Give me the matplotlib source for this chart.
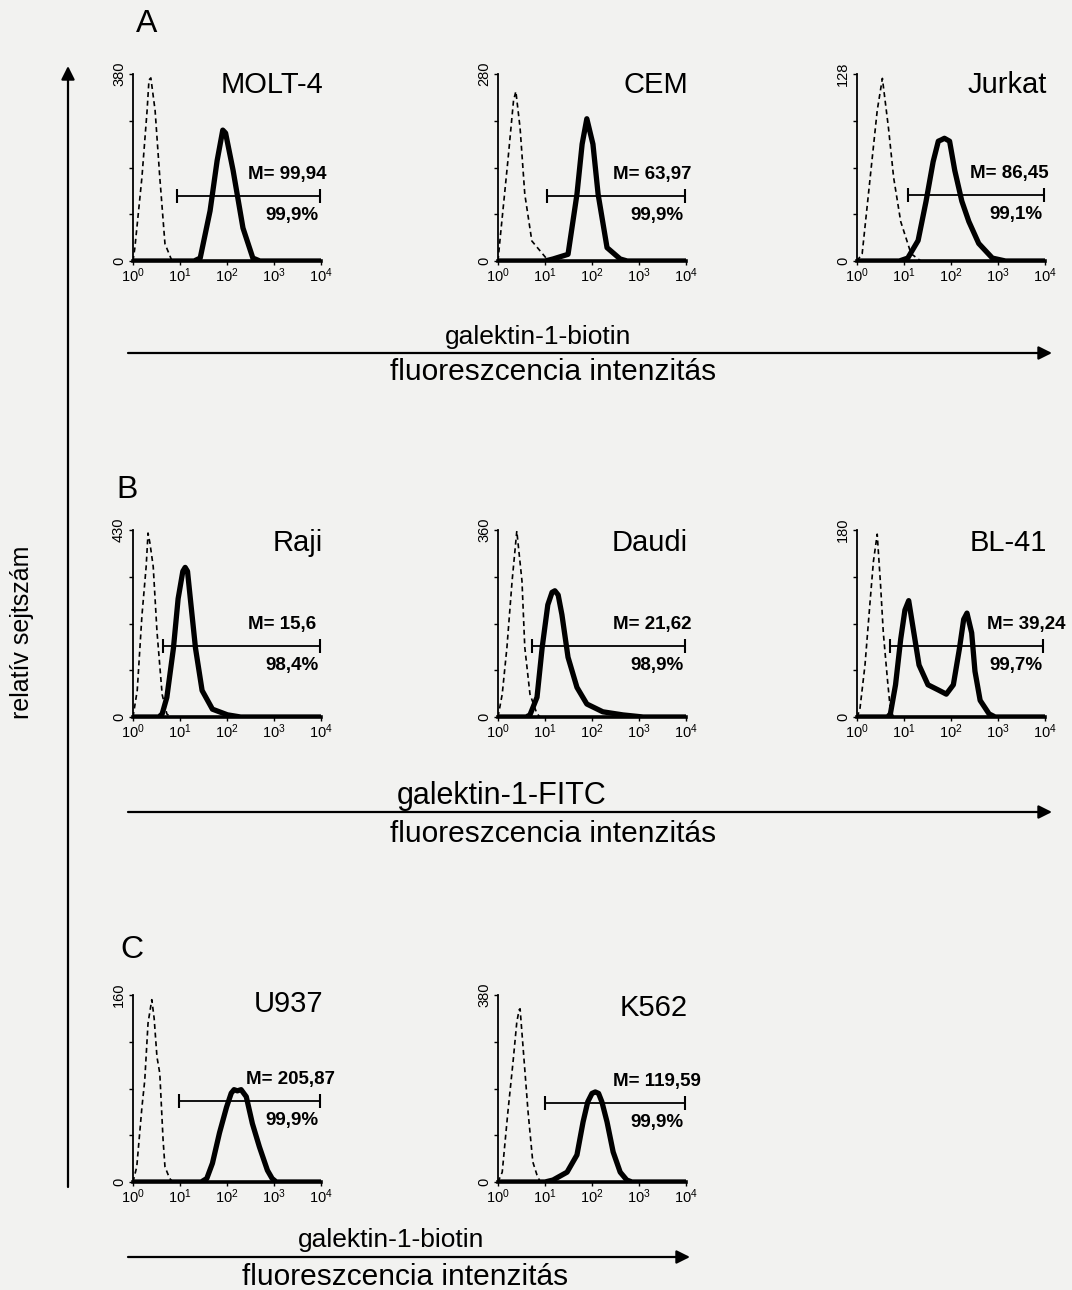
import numpy as np
import matplotlib
matplotlib.use("Agg")
import matplotlib.pyplot as plt
from matplotlib.patches import FancyArrowPatch

plt.rcParams['font.family'] = ['Liberation Sans', 'DejaVu Sans']
plt.rcParams['mathtext.fontset'] = 'custom'
plt.rcParams['mathtext.rm'] = 'Liberation Sans'
plt.rcParams['mathtext.it'] = 'Liberation Sans'
plt.rcParams['mathtext.bf'] = 'Liberation Sans:bold'

# ---------------- data (log10 fluorescence, cell count) ----------------
names = ["MOLT-4", "CEM", "Jurkat", "Raji", "Daudi", "BL-41", "U937", "K562"]
ymax = [380, 280, 128, 430, 360, 180, 160, 380]
mean_labels = ["M= 99,94", "M= 63,97", "M= 86,45", "M= 15,6", "M= 21,62",
               "M= 39,24", "M= 205,87", "M= 119,59"]
pct_labels = ["99,9%", "99,9%", "99,1%", "98,4%", "98,9%", "99,7%", "99,9%", "99,9%"]
gate_lo = [0.94, 1.04, 1.08, 0.64, 0.72, 0.71, 0.98, 1.00]
gate_hi = [3.98, 3.97, 3.97, 3.97, 3.97, 3.96, 3.97, 3.97]
gate_cnt = [133, 98, 45, 163, 137, 68, 69, 160]

molt4_ctrl_x = [0.0, 0.04, 0.19, 0.30, 0.34, 0.38, 0.47, 0.57, 0.68, 0.83]
molt4_ctrl_y = [0, 27, 170, 306, 368, 372, 306, 170, 35, 0]
molt4_x = [0, 1.30, 1.43, 1.64, 1.79, 1.91, 1.97, 2.13, 2.34, 2.55, 2.70, 4.0]
molt4_y = [0, 0, 6, 102, 204, 266, 260, 184, 67, 6, 0, 0]

cem_ctrl_x = [0.0, 0.04, 0.21, 0.33, 0.38, 0.47, 0.57, 0.72, 1.04, 1.2]
cem_ctrl_y = [0, 30, 150, 240, 254, 199, 100, 30, 3, 0]
cem_x = [0, 1.0, 1.17, 1.49, 1.68, 1.79, 1.89, 2.02, 2.13, 2.32, 2.6, 2.75, 4]
cem_y = [0, 0, 3, 10, 100, 175, 213, 175, 100, 20, 3, 0, 0]

jurkat_ctrl_x = [0.0, 0.11, 0.28, 0.43, 0.54, 0.67, 0.78, 0.93, 1.15, 1.36]
jurkat_ctrl_y = [0, 5, 57, 103, 125, 91, 57, 27, 5, 0]
jurkat_x = [0, 0.9, 1.08, 1.30, 1.47, 1.62, 1.73, 1.80, 1.86, 1.97, 2.08, 2.23,
            2.38, 2.59, 2.88, 3.16, 4]
jurkat_y = [0, 0, 2, 14, 41, 68, 82, 83, 84, 82, 62, 41, 27, 12, 2, 0, 0]

raji_ctrl_x = [0.0, 0.09, 0.19, 0.28, 0.32, 0.36, 0.43, 0.51, 0.62, 0.72, 0.8]
raji_ctrl_y = [0, 61, 233, 346, 423, 400, 346, 197, 52, 7, 0]
raji_x = [0, 0.55, 0.62, 0.72, 0.86, 0.96, 1.06, 1.11, 1.16, 1.22, 1.33, 1.47,
          1.69, 2.01, 2.29, 4]
raji_y = [0, 0, 7, 45, 158, 272, 335, 344, 335, 272, 158, 61, 18, 5, 0, 0]

daudi_ctrl_x = [0.0, 0.09, 0.19, 0.30, 0.40, 0.51, 0.57, 0.68, 0.83, 0.9]
daudi_ctrl_y = [0, 44, 134, 262, 358, 262, 134, 44, 6, 0]
daudi_x = [0, 0.6, 0.68, 0.83, 0.94, 1.06, 1.15, 1.21, 1.28, 1.36, 1.49, 1.68,
           1.89, 2.23, 2.66, 3.09, 4]
daudi_y = [0, 0, 4, 38, 134, 216, 240, 243, 235, 197, 115, 57, 25, 10, 4, 0, 0]

bl41_ctrl_x = [0.0, 0.06, 0.17, 0.28, 0.35, 0.43, 0.50, 0.56, 0.65, 0.71, 0.78]
bl41_ctrl_y = [0, 7, 50, 112, 150, 176, 128, 81, 35, 7, 0]
bl41_x = [0, 0.65, 0.71, 0.82, 0.93, 1.02, 1.10, 1.21, 1.32, 1.51, 1.73, 1.90,
          2.05, 2.18, 2.27, 2.34, 2.44, 2.51, 2.62, 2.81, 2.94, 4]
bl41_y = [0, 0, 3, 31, 75, 103, 112, 81, 50, 31, 26, 22, 31, 66, 94, 100, 81,
          44, 16, 3, 0, 0]

u937_ctrl_x = [0.0, 0.08, 0.19, 0.25, 0.32, 0.40, 0.45, 0.51, 0.57, 0.64, 0.68,
               0.78, 0.85]
u937_ctrl_y = [0, 13, 64, 87, 136, 156, 140, 107, 93, 36, 13, 3, 0]
u937_x = [0, 1.45, 1.57, 1.69, 1.84, 1.99, 2.09, 2.15, 2.22, 2.30, 2.41, 2.54,
          2.69, 2.86, 2.96, 3.05, 4]
u937_y = [0, 0, 3, 16, 42, 64, 76, 79, 78, 79, 73, 50, 30, 10, 3, 0, 0]

k562_ctrl_x = [0.0, 0.09, 0.21, 0.32, 0.40, 0.45, 0.47, 0.53, 0.64, 0.74, 0.83, 0.9]
k562_ctrl_y = [0, 20, 142, 244, 325, 350, 352, 278, 142, 41, 14, 0]
k562_x = [0, 1.0, 1.17, 1.47, 1.68, 1.81, 1.91, 2.0, 2.07, 2.14, 2.21, 2.32,
          2.45, 2.60, 2.74, 2.85, 4]
k562_y = [0, 0, 4, 20, 55, 122, 163, 180, 183, 180, 163, 122, 61, 20, 4, 0, 0]

ctrl_curves = [(molt4_ctrl_x, molt4_ctrl_y), (cem_ctrl_x, cem_ctrl_y),
               (jurkat_ctrl_x, jurkat_ctrl_y), (raji_ctrl_x, raji_ctrl_y),
               (daudi_ctrl_x, daudi_ctrl_y), (bl41_ctrl_x, bl41_ctrl_y),
               (u937_ctrl_x, u937_ctrl_y), (k562_ctrl_x, k562_ctrl_y)]
stain_curves = [(molt4_x, molt4_y), (cem_x, cem_y), (jurkat_x, jurkat_y),
                (raji_x, raji_y), (daudi_x, daudi_y), (bl41_x, bl41_y),
                (u937_x, u937_y), (k562_x, k562_y)]

decade_labels = [r"$10^{0}$", r"$10^{1}$", r"$10^{2}$", r"$10^{3}$", r"$10^{4}$"]
row_labels = ["galektin-1-biotin", "galektin-1-FITC", "galektin-1-biotin"]
axis_text = "fluoreszcencia intenzitás"
y_text = "relatív sejtszám"
panel_letters = ["A", "B", "C"]

# ---------------- layout ----------------
W, H = 1072, 1290
BG = "#f2f2f0"
fig = plt.figure(figsize=(W / 100, H / 100), dpi=100, facecolor=BG)


def fx(x):
    return x / W


def fy(y):
    return 1 - y / H


col_x = [133, 498, 857]
row_top = [74, 530, 995]
aw, ah = 188, 187
slots = [(0, 0), (0, 1), (0, 2), (1, 0), (1, 1), (1, 2), (2, 0), (2, 1)]
mlabel_x = [0.61, 0.61, 0.60, 0.61, 0.61, 0.69, 0.60, 0.61]
title_y = [0.94, 0.94, 0.94, 0.93, 0.93, 0.93, 0.95, 0.93]

for i, (r, c) in enumerate(slots):
    x0 = col_x[c]
    yt = row_top[r]
    ax = fig.add_axes([fx(x0), fy(yt + ah), aw / W, ah / H])
    ax.set_facecolor("none")
    ax.set_xscale("log")
    ax.set_xlim(1, 1e4)
    ax.set_ylim(0, ymax[i])
    for s in ("top", "right"):
        ax.spines[s].set_visible(False)
    ax.spines["left"].set_linewidth(1.3)
    ax.spines["bottom"].set_linewidth(2.6)

    cx, cy = ctrl_curves[i]
    ax.plot(10 ** np.array(cx), cy, color="k", lw=1.2, ls=(0, (3, 2.2)))
    sx, sy = stain_curves[i]
    ax.plot(10 ** np.array(sx), sy, color="k", lw=3.8, solid_joinstyle="round")

    # gate marker
    gx = [10 ** gate_lo[i], 10 ** gate_hi[i]]
    ax.plot(gx, [gate_cnt[i]] * 2, color="k", lw=1.3)
    ax.plot(gx, [gate_cnt[i]] * 2, ls="none", marker="|", ms=10, mew=1.5, color="k")
    gfrac = gate_cnt[i] / ymax[i]
    ax.text(mlabel_x[i], gfrac + 0.115, mean_labels[i], transform=ax.transAxes,
            ha="left", va="center", fontsize=13.5, fontweight="bold")
    ax.text(0.985, gfrac - 0.105, pct_labels[i], transform=ax.transAxes,
            ha="right", va="center", fontsize=13.5, fontweight="bold")

    ax.text(1.01, title_y[i], names[i], transform=ax.transAxes, ha="right",
            va="center", fontsize=21)

    ax.set_xticks([1, 10, 100, 1000, 10000])
    ax.set_xticklabels(decade_labels, fontsize=10.5)
    ax.xaxis.set_minor_locator(matplotlib.ticker.NullLocator())
    ax.tick_params(axis="x", length=3, width=1, pad=1)
    yt_vals = [0, ymax[i] / 4, ymax[i] / 2, 3 * ymax[i] / 4, ymax[i]]
    ax.set_yticks(yt_vals)
    ax.set_yticklabels(["0", "", "", "", str(ymax[i])], fontsize=10.5, rotation=90,
                       va="center")
    ax.tick_params(axis="y", length=3, width=1, pad=2)

# panel letters
letter_pos = [(147, 24), (127, 490), (132, 950)]
for L, (x, y) in zip(panel_letters, letter_pos):
    fig.text(fx(x), fy(y), L, fontsize=23, ha="center", va="center",
             color="k")


def arrow(x1, y1, x2, y2):
    a = FancyArrowPatch((fx(x1), fy(y1)), (fx(x2), fy(y2)),
                        transform=fig.transFigure, arrowstyle="-|>",
                        mutation_scale=20, lw=1.6, color="k",
                        shrinkA=0, shrinkB=0)
    fig.add_artist(a)


# vertical axis arrow
arrow(68, 1187, 68, 66)
fig.text(fx(22), fy(632), y_text, rotation=90, ha="center", va="center",
         fontsize=18)

# horizontal arrows
arrow(128, 353, 1052, 353)
fig.text(fx(538), fy(337), row_labels[0], ha="center", va="center", fontsize=19)
fig.text(fx(553), fy(372), axis_text, ha="center", va="center", fontsize=21.5)

arrow(128, 812, 1052, 812)
fig.text(fx(502), fy(796), row_labels[1], ha="center", va="center", fontsize=22)
fig.text(fx(553), fy(834), axis_text, ha="center", va="center", fontsize=21.5)

arrow(128, 1257, 690, 1257)
fig.text(fx(391), fy(1240), row_labels[2], ha="center", va="center", fontsize=19)
fig.text(fx(405), fy(1277), axis_text, ha="center", va="center", fontsize=21.5)

fig.savefig("out.png", dpi=100, facecolor=BG)
